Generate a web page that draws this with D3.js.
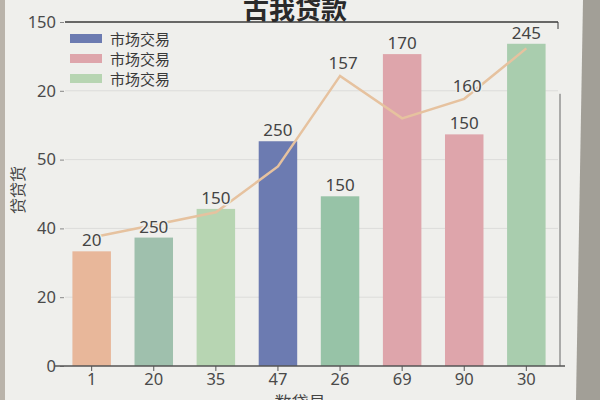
<!DOCTYPE html>
<html>
<head>
<meta charset="utf-8">
<script src="https://cdn.jsdelivr.net/npm/d3@7"></script>
<style>
  body { margin: 0; background: #efefec; }
  svg { display: block; }
  text { font-family: "Noto Sans", "Noto Sans CJK SC", sans-serif; }
</style>
</head>
<body>
<svg id="chart" width="600" height="400"></svg>
<script>
// ----------DATA----------
var categories = ['1', '20', '35', '47', '26', '69', '90', '30'];
var barValues  = [50, 56, 68.5, 98, 74, 136, 101, 140.5];
var barLabels  = ['20', '250', '150', '250', '150', '170', '150', '245'];
var barColors  = ['#e8b79a', '#9fc0ad', '#b7d5b2', '#6c7bb1', '#97c3a7', '#dea5ab', '#dea5ab', '#a9cdae'];
var lineValues = [56, 61.5, 67, 87, 126.5, 108, 116.5, 138.5];
var lineLabels = ['', '', '', '', '157', '', '160', ''];
var yTickValues = [0, 30, 60, 90, 120, 150];
var yTickLabels = ['0', '20', '40', '50', '20', '150'];
var legendNames  = ['市场交易', '市场交易', '市场交易'];
var legendColors = ['#6c7bb1', '#dea5ab', '#b7d5b2'];

var svg = d3.select('#chart');
var paper = '#efefec';

// photo edges (table under the sheet)
svg.append('polygon')
    .attr('points', '583,0 600,0 600,400 576,400')
    .attr('fill', '#a29f97');
svg.append('rect')
    .attr('x', 0).attr('y', 0).attr('width', 5).attr('height', 400)
    .attr('fill', '#b9b3aa');

var x = d3.scaleBand()
    .domain(categories)
    .range([60, 558])
    .paddingInner(0.38)
    .paddingOuter(0.2);

var y = d3.scaleLinear()
    .domain([0, 150])
    .range([366, 22]);

//----------GRID----------
svg.append('g')
    .selectAll('line')
    .data(yTickValues.slice(1, -1))
    .enter().append('line')
    .attr('x1', 65).attr('x2', 558)
    .attr('y1', function(d) {return y(d);})
    .attr('y2', function(d) {return y(d);})
    .attr('stroke', '#dcdcda')
    .attr('stroke-width', 1);

// top rule
svg.append('line')
    .attr('x1', 65).attr('x2', 558)
    .attr('y1', y(150)).attr('y2', y(150))
    .attr('stroke', '#3a3a3a').attr('stroke-width', 1.5);
svg.append('line')
    .attr('x1', 558).attr('x2', 558)
    .attr('y1', y(150)).attr('y2', y(150) + 7)
    .attr('stroke', '#3a3a3a').attr('stroke-width', 1);

// right frame
svg.append('line')
    .attr('x1', 560).attr('x2', 560)
    .attr('y1', y(120) + 3).attr('y2', y(0))
    .attr('stroke', '#666').attr('stroke-width', 1);

//----------Y AXIS----------
var yAxis = svg.append('g')
    .attr('transform', 'translate(64,0)')
    .call(d3.axisLeft(y)
        .tickValues(yTickValues)
        .tickSize(4)
        .tickPadding(4)
        .tickFormat(function(d, i) {return yTickLabels[i];}));
yAxis.select('.domain').remove();
yAxis.selectAll('line').attr('stroke', '#888');
yAxis.selectAll('text')
    .attr('font-size', 16.5)
    .attr('fill', '#4a4a4a');

//----------BARS----------
svg.append('g')
    .selectAll('rect')
    .data(barValues)
    .enter().append('rect')
    .attr('x', function(d, i) {return x(categories[i]);})
    .attr('y', function(d) {return y(d);})
    .attr('width', x.bandwidth())
    .attr('height', function(d) {return y(0) - y(d);})
    .attr('fill', function(d, i) {return barColors[i];});

//----------X AXIS----------
var xAxis = svg.append('g')
    .attr('transform', 'translate(0,' + y(0) + ')')
    .call(d3.axisBottom(x).tickSize(5).tickPadding(2).tickSizeOuter(0));
xAxis.select('.domain')
    .attr('d', 'M55,0H565')
    .attr('stroke', '#555')
    .attr('stroke-width', 1.5);
xAxis.selectAll('line').attr('stroke', '#555');
xAxis.selectAll('text')
    .attr('font-size', 16.5)
    .attr('fill', '#4a4a4a');

//----------LINE----------
var line = d3.line()
    .x(function(d, i) {return x(categories[i]) + x.bandwidth() / 2;})
    .y(function(d) {return y(d);});

svg.append('path')
    .datum(lineValues)
    .attr('d', line)
    .attr('fill', 'none')
    .attr('stroke', '#e6c29f')
    .attr('stroke-width', 2.5);

//----------LABELS----------
svg.append('g')
    .selectAll('text')
    .data(barValues)
    .enter().append('text')
    .attr('x', function(d, i) {return x(categories[i]) + x.bandwidth() / 2;})
    .attr('y', function(d) {return y(d) - 5;})
    .attr('text-anchor', 'middle')
    .attr('font-size', 17)
    .attr('fill', '#444')
    .attr('stroke', paper).attr('stroke-width', 3).attr('paint-order', 'stroke')
    .text(function(d, i) {return barLabels[i];});

svg.append('g')
    .selectAll('text')
    .data(lineValues)
    .enter().append('text')
    .attr('x', function(d, i) {return x(categories[i]) + x.bandwidth() / 2 + 3;})
    .attr('y', function(d) {return y(d) - 7;})
    .attr('text-anchor', 'middle')
    .attr('font-size', 17)
    .attr('fill', '#444')
    .attr('stroke', paper).attr('stroke-width', 3).attr('paint-order', 'stroke')
    .text(function(d, i) {return lineLabels[i];});

//----------LEGEND----------
var legend = svg.append('g')
    .selectAll('g')
    .data(legendNames)
    .enter().append('g')
    .attr('transform', function(d, i) {return 'translate(70,' + (34 + i * 20) + ')';});
legend.append('rect')
    .attr('width', 32).attr('height', 9)
    .attr('fill', function(d, i) {return legendColors[i];});
legend.append('text')
    .attr('x', 40).attr('y', 10.5)
    .attr('font-size', 15)
    .attr('fill', '#3a3a3a')
    .text(function(d) {return d;});

//----------TITLES----------
svg.append('text')
    .attr('x', 295).attr('y', 19)
    .attr('text-anchor', 'middle')
    .attr('font-size', 26)
    .attr('font-weight', 'bold')
    .attr('fill', '#2a2a2a')
    .text('古我贷款');

svg.append('text')
    .attr('transform', 'translate(24,190) rotate(-90)')
    .attr('text-anchor', 'middle')
    .attr('font-size', 16)
    .attr('fill', '#444')
    .text('贷贷货');

svg.append('text')
    .attr('x', 300).attr('y', 409)
    .attr('text-anchor', 'middle')
    .attr('font-size', 17)
    .attr('fill', '#444')
    .text('数贷易');
</script>
</body>
</html>
